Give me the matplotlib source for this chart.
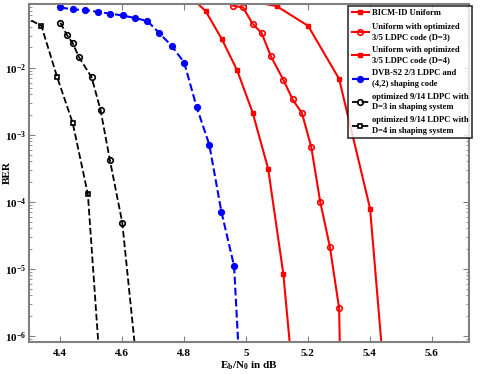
import matplotlib
matplotlib.use("Agg")
import matplotlib.pyplot as plt
from matplotlib.ticker import LogLocator, NullFormatter, FixedLocator

plt.rcParams['font.family'] = ['Liberation Serif', 'DejaVu Serif']
plt.rcParams['font.weight'] = 'bold'
plt.rcParams['mathtext.fontset'] = 'custom'
plt.rcParams['mathtext.rm'] = 'Liberation Serif:bold'
plt.rcParams['mathtext.it'] = 'Liberation Serif:bold'
plt.rcParams['mathtext.bf'] = 'Liberation Serif:bold'

# BICM-ID Uniform
bicm_x = [5.0, 5.099, 5.201, 5.301, 5.401, 5.445]
bicm_y = [0.1, 0.083, 0.042, 6.8e-3, 7.9e-5, 3e-7]

# Uniform with optimized 3/5 LDPC (D=3)
d3_x = [4.959, 4.991, 5.022, 5.051, 5.081, 5.121, 5.151, 5.181, 5.211, 5.24, 5.271, 5.301, 5.305]
d3_y = [0.0838, 0.079, 0.045, 0.0327, 0.0147, 6.6e-3, 3.36e-3, 2.1e-3, 6.6e-4, 1.0e-4, 2.15e-5, 2.6e-6, 3e-7]

# Uniform with optimized 3/5 LDPC (D=4)
d4_x = [4.82, 4.87, 4.922, 4.972, 5.022, 5.072, 5.121, 5.15]
d4_y = [0.115, 0.070, 0.0269, 9.1e-3, 2.13e-3, 3.1e-4, 8.4e-6, 3e-7]

# DVB-S2 2/3 LDPC and (4,2) shaping code
dvb_x = [4.401, 4.441, 4.482, 4.522, 4.561, 4.602, 4.642, 4.682, 4.72, 4.761,
         4.801, 4.841, 4.882, 4.921, 4.962, 4.98]
dvb_y = [0.079, 0.074, 0.072, 0.068, 0.064, 0.060, 0.055, 0.0497, 0.033, 0.021,
         0.0119, 2.6e-3, 7.1e-4, 7.1e-5, 1.1e-5, 3e-7]

# optimized 9/14 LDPC, D=3 shaping
s3_x = [4.401, 4.4216, 4.441, 4.461, 4.502, 4.531, 4.561, 4.601, 4.65]
s3_y = [0.0469, 0.0311, 0.0232, 0.0144, 7.2e-3, 2.33e-3, 4.2e-4, 4.9e-5, 3e-7]

# optimized 9/14 LDPC, D=4 shaping
s4_x = [4.28, 4.34, 4.391, 4.441, 4.49, 4.53]
s4_y = [0.059, 0.042, 7.2e-3, 1.5e-3, 1.3e-4, 3e-7]

labels = ["BICM-ID Uniform",
          "Uniform with optimized\n3/5 LDPC code (D=3)",
          "Uniform with optimized\n3/5 LDPC code (D=4)",
          "DVB-S2 2/3 LDPC and\n(4,2) shaping code",
          "optimized 9/14 LDPC with\nD=3 in shaping system",
          "optimized 9/14 LDPC with\nD=4 in shaping system"]

fig = plt.figure(figsize=(4.85, 3.74), dpi=100)
ax = fig.add_axes([0.0598, 0.0856, 0.907, 0.9037])

ax.plot(bicm_x, bicm_y, '-', color='red', lw=1.5, marker='s', ms=3.5, label=labels[0])
ax.plot(d3_x, d3_y, '-', color='red', lw=1.5, marker='o', ms=4, mfc='none', mew=1.2, label=labels[1])
ax.plot(d4_x, d4_y, '-', color='red', lw=1.5, marker='s', ms=3.2, label=labels[2])
ax.plot(dvb_x, dvb_y, '--', color='blue', lw=1.5, marker='o', ms=4.2, label=labels[3])
ax.plot(s3_x, s3_y, '--', color='black', lw=1.3, marker='o', ms=4, mfc='none', mew=1.2, label=labels[4])
ax.plot(s4_x, s4_y, '--', color='black', lw=1.3, marker='s', ms=3.3, mfc='none', mew=1.2, label=labels[5])

ax.set_yscale('log')
ax.set_xlim(4.3, 5.72)
ax.set_ylim(8.1e-7, 0.089)
ax.xaxis.set_major_locator(FixedLocator([4.4, 4.6, 4.8, 5.0, 5.2, 5.4, 5.6]))
ax.set_xticklabels(['4.4', '4.6', '4.8', '5', '5.2', '5.4', '5.6'])
ax.yaxis.set_major_locator(LogLocator(base=10, numticks=10))
ax.yaxis.set_minor_locator(LogLocator(base=10, subs=range(2, 10), numticks=20))
ax.yaxis.set_minor_formatter(NullFormatter())
ax.tick_params(axis='both', which='both', direction='in', top=True, right=True,
               color='#808080', labelsize=8)
ax.tick_params(axis='x', pad=5)
ax.tick_params(axis='y', pad=2)
ax.tick_params(which='major', length=4)
ax.tick_params(which='minor', length=2)
for s in ax.spines.values():
    s.set_color('#808080')
    s.set_linewidth(1.5)

ax.set_xlabel(r'E$_\mathrm{b}$/N$_\mathrm{0}$ in dB', fontsize=8, fontweight='bold', labelpad=1)
ax.set_ylabel('BER', fontsize=8, fontweight='bold')
ax.yaxis.set_label_coords(-0.04, 0.5)

leg = ax.legend(loc='upper right', bbox_to_anchor=(1.0068, 0.994), fontsize=6.1,
                frameon=True, fancybox=False, handlelength=2.1, handletextpad=0.3,
                borderpad=0.4, labelspacing=0.6, borderaxespad=0)
for t in leg.get_texts():
    t.set_linespacing(1.4)
leg.get_frame().set_edgecolor('black')
leg.get_frame().set_linewidth(1.2)

fig.savefig('out.png', dpi=100)
